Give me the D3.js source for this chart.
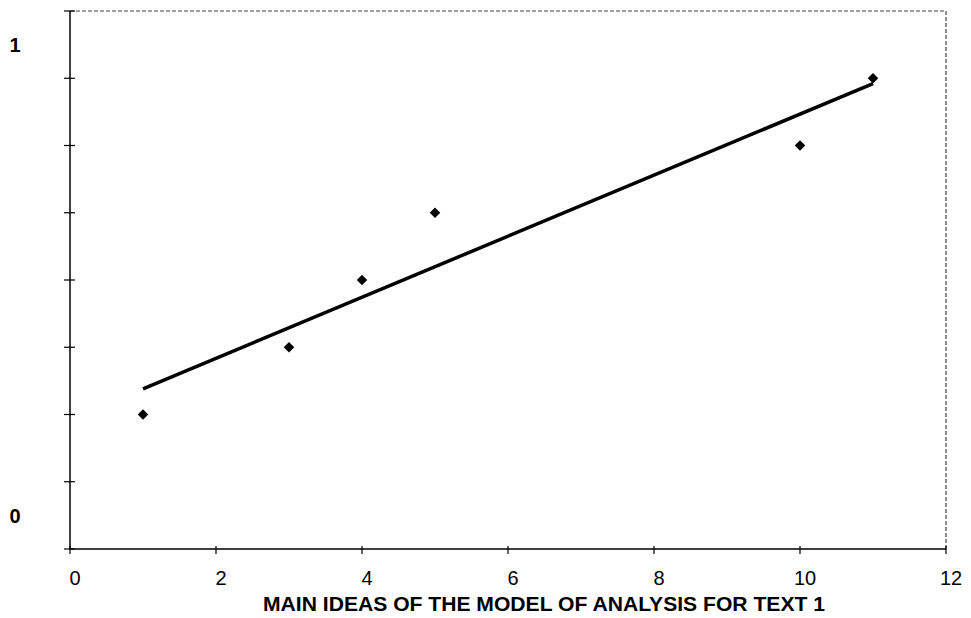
<!DOCTYPE html>
<html>
<head>
<meta charset="utf-8">
<script src="https://cdn.jsdelivr.net/npm/d3@7"></script>
<style>
  body { margin: 0; background: #fff; }
  text { font-family: "Liberation Sans", Arial, sans-serif; fill: #000; }
</style>
</head>
<body>
<div id="chart"></div>
<script>
// chart data
const xValues = [1, 3, 4, 5, 10, 11];
const yValues = [2, 3, 4, 5, 6, 7];
const xTicks = [0, 2, 4, 6, 8, 10, 12];
const yTicks = [0, 1, 2, 3, 4, 5, 6, 7, 8];
const yLabelPos = [0.5, 7.5];
const yLabelText = ["0", "1"];
const xTitle = "MAIN IDEAS OF THE MODEL OF ANALYSIS FOR TEXT 1";

const W = 971, H = 618;
const margin = {top: 11, right: 25, bottom: 69, left: 70},
    width = W - margin.left - margin.right,
    height = H - margin.top - margin.bottom;

const svg = d3.select("#chart").append("svg")
    .attr("width", W)
    .attr("height", H);

const g = svg.append("g")
    .attr("transform", `translate(${margin.left},${margin.top})`);

const x = d3.scaleLinear().domain([0, 12]).range([0, width]);
const y = d3.scaleLinear().domain([0, 8]).range([height, 0]);

// dashed frame top & right
g.append("path")
    .attr("d", `M0,0H${width}V${height}`)
    .attr("fill", "none")
    .attr("stroke", "#444")
    .attr("stroke-width", 1.2)
    .attr("stroke-dasharray", "4,2");

// y axis, cross ticks
g.append("line")
    .attr("x1", 0).attr("x2", 0).attr("y1", 0).attr("y2", height)
    .attr("stroke", "#000").attr("stroke-width", 1.5);
g.selectAll(".ytick")
    .data(yTicks)
    .enter().append("line")
    .attr("class", "ytick")
    .attr("x1", -6).attr("x2", 5)
    .attr("y1", d => y(d)).attr("y2", d => y(d))
    .attr("stroke", "#000").attr("stroke-width", 1.2);
g.selectAll(".ylab")
    .data(yLabelPos)
    .enter().append("text")
    .attr("class", "ylab")
    .attr("x", -55)
    .attr("y", d => y(d))
    .attr("dy", "0.36em")
    .attr("text-anchor", "middle")
    .style("font-weight", "bold")
    .style("font-size", "20px")
    .text((d, i) => yLabelText[i]);

// x axis
g.append("line")
    .attr("x1", 0).attr("x2", width).attr("y1", height).attr("y2", height)
    .attr("stroke", "#000").attr("stroke-width", 1.5);
g.selectAll(".xtick")
    .data(xTicks)
    .enter().append("line")
    .attr("class", "xtick")
    .attr("x1", d => x(d)).attr("x2", d => x(d))
    .attr("y1", height - 3).attr("y2", height + 5)
    .attr("stroke", "#000").attr("stroke-width", 1.2);
g.selectAll(".xlab")
    .data(xTicks)
    .enter().append("text")
    .attr("class", "xlab")
    .attr("x", d => x(d) + 5)
    .attr("y", height + 36)
    .attr("text-anchor", "middle")
    .style("font-size", "20px")
    .text(d => d);

g.append("text")
    .attr("x", 474)
    .attr("y", height + 62)
    .attr("text-anchor", "middle")
    .style("font-weight", "bold")
    .style("font-size", "21px")
    .attr("textLength", 562)
    .attr("lengthAdjust", "spacingAndGlyphs")
    .text(xTitle);

// linear trend line (least squares)
const mx = d3.mean(xValues), my = d3.mean(yValues);
let sxy = 0, sxx = 0;
xValues.forEach((v, i) => {
    sxy += (v - mx) * (yValues[i] - my);
    sxx += (v - mx) * (v - mx);
});
const slope = sxy / sxx, icpt = my - slope * mx;
const x0 = d3.min(xValues), x1 = d3.max(xValues);
g.append("line")
    .attr("x1", x(x0)).attr("y1", y(icpt + slope * x0))
    .attr("x2", x(x1)).attr("y2", y(icpt + slope * x1))
    .attr("stroke", "#000")
    .attr("stroke-width", 3.5);

// markers
g.selectAll(".pt")
    .data(xValues)
    .enter().append("path")
    .attr("class", "pt")
    .attr("transform", (d, i) => `translate(${x(d)},${y(yValues[i])})`)
    .attr("d", d3.symbol().type(d3.symbolDiamond2).size(70))
    .attr("fill", "#000");
</script>
</body>
</html>
